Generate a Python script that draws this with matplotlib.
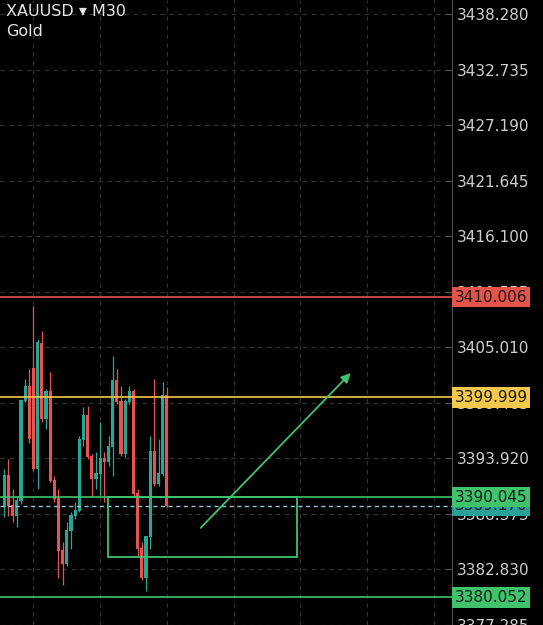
import matplotlib
matplotlib.use("Agg")
import matplotlib.pyplot as plt
from matplotlib.patches import Rectangle

# Candle data (XAUUSD, M30), oldest first
OPENS = [3389.10, 3392.18, 3389.20, 3388.21, 3389.70, 3399.65, 3401.14, 3402.84,
         3392.88, 3405.43, 3397.86, 3400.55, 3391.69, 3389.90, 3384.71, 3383.42,
         3386.71, 3388.21, 3388.70, 3395.76, 3398.16, 3394.07, 3391.89, 3392.38,
         3393.88, 3393.58, 3395.07, 3401.74, 3399.55, 3394.37, 3399.55, 3400.55,
         3390.39, 3384.91, 3381.93, 3386.11, 3394.57, 3391.39, 3392.38, 3400.15]
HIGHS = [3392.88, 3393.88, 3390.89, 3390.19, 3399.85, 3401.84, 3402.84, 3409.11,
         3405.83, 3406.62, 3400.85, 3402.54, 3392.18, 3390.89, 3385.61, 3387.61,
         3388.60, 3389.60, 3396.16, 3399.05, 3399.15, 3394.37, 3394.57, 3397.56,
         3394.57, 3396.16, 3404.13, 3402.84, 3401.14, 3399.85, 3401.14, 3400.85,
         3390.89, 3385.61, 3386.21, 3396.16, 3401.84, 3395.86, 3401.54, 3401.04]
LOWS = [3388.11, 3388.21, 3387.61, 3387.11, 3389.40, 3399.55, 3395.47, 3392.68,
        3390.89, 3397.56, 3396.86, 3391.59, 3389.60, 3381.93, 3381.23, 3383.22,
        3384.91, 3387.91, 3388.60, 3395.17, 3393.88, 3390.19, 3390.89, 3390.19,
        3389.60, 3393.18, 3392.18, 3399.35, 3394.17, 3394.07, 3399.35, 3390.19,
        3384.21, 3381.73, 3380.63, 3384.91, 3391.19, 3391.19, 3392.18, 3389.10]
CLOSES = [3392.18, 3389.20, 3388.21, 3389.70, 3399.65, 3401.14, 3395.86, 3392.88,
          3405.53, 3397.86, 3400.55, 3391.69, 3389.90, 3384.71, 3383.42, 3386.71,
          3388.21, 3388.70, 3395.76, 3398.16, 3394.07, 3391.89, 3392.38, 3393.88,
          3393.58, 3395.07, 3401.74, 3399.55, 3394.37, 3399.55, 3400.55, 3390.39,
          3384.91, 3381.93, 3386.11, 3394.57, 3391.39, 3392.38, 3400.15, 3389.17]

PRICE_TICKS = [3438.280, 3432.735, 3427.190, 3421.645, 3416.100, 3410.555,
               3405.010, 3399.465, 3393.920, 3388.375, 3382.830, 3377.285]
TIME_GRID = [7, 23, 39, 55, 71, 87, 103]

# drawn levels
RED_LEVEL = 3410.006
YELLOW_LEVEL = 3399.999
GREEN_LEVELS = [3390.045, 3380.052]
CURRENT_PRICE = 3389.170

# zone box and arrow (bar index, price)
BOX_X = [24.8, 70.1]
BOX_Y = [3384.12, 3390.045]
ARROW_FROM = (47.1, 3386.98)
ARROW_TO = (83.1, 3402.44)

BULL = "#27a595"
BEAR = "#e8524f"
RED = "#e5534b"
YELLOW = "#f4c84a"
GREEN = "#3fc46b"
CYAN = "#8fc3d6"
TEXT = "#cfcfcf"

fig = plt.figure(figsize=(5.43, 6.25), dpi=100, facecolor="black")
ax = fig.add_axes([0, 0, 452 / 543, 1])
ax.set_facecolor("black")

idx = list(range(len(OPENS)))
cols = [BULL if c >= o else BEAR for o, c in zip(OPENS, CLOSES)]
ax.vlines(idx, LOWS, HIGHS, colors=cols, lw=0.9, zorder=2)
ax.bar(idx, [abs(c - o) + 0.05 for o, c in zip(OPENS, CLOSES)],
       bottom=[min(o, c) for o, c in zip(OPENS, CLOSES)],
       width=0.75, color=cols, lw=0, zorder=3)

ax.set_xlim(-1.03, 107.4)
ax.set_ylim(3377.45, 3439.674)

ax.set_yticks(PRICE_TICKS)
ax.set_yticklabels([f"{t:.3f}" for t in PRICE_TICKS])
ax.yaxis.tick_right()
ax.tick_params(axis="y", direction="in", length=5, color="#555555",
               labelcolor=TEXT, labelsize=11, pad=3.6)
ax.set_xticks(TIME_GRID)
ax.tick_params(axis="x", length=0, labelbottom=False)
ax.grid(True, color="#333333", linestyle=(0, (4, 4)), lw=0.8, zorder=0)
ax.set_axisbelow(True)
for s in ["left", "top", "bottom"]:
    ax.spines[s].set_visible(False)
ax.spines["right"].set_color("#4d4d4d")

# horizontal levels
ax.axhline(RED_LEVEL, color=RED, lw=1.2, zorder=4)
ax.axhline(YELLOW_LEVEL, color=YELLOW, lw=1.2, zorder=4)
for g in GREEN_LEVELS:
    ax.axhline(g, color=GREEN, lw=1.2, zorder=4)
ax.axhline(CURRENT_PRICE, color=CYAN, lw=1.0, ls=(0, (3, 2.5)), zorder=4)

# zone box and arrow
ax.add_patch(Rectangle((BOX_X[0], BOX_Y[0]), BOX_X[1] - BOX_X[0],
                       BOX_Y[1] - BOX_Y[0], fill=False, edgecolor=GREEN,
                       lw=1.3, zorder=4))
ax.annotate("", xy=ARROW_TO, xytext=ARROW_FROM,
            arrowprops=dict(arrowstyle="-|>", color=GREEN, lw=1.3,
                            mutation_scale=14, shrinkA=0, shrinkB=0),
            zorder=5)


def price_label(price, face, z):
    ax.text(1.0055, price, f"{price:.3f}", transform=ax.get_yaxis_transform(),
            ha="left", va="center", fontsize=11, color="#1a1a1a",
            clip_on=False, zorder=z,
            bbox=dict(boxstyle="square,pad=0.18", fc=face, ec="none"))


price_label(CURRENT_PRICE, "#2aa198", 6)
price_label(RED_LEVEL, RED, 7)
price_label(YELLOW_LEVEL, YELLOW, 7)
for g in GREEN_LEVELS:
    price_label(g, GREEN, 7)

fig.text(6 / 543, 1 - 12 / 625, "XAUUSD \u25be M30", color="#e6e6e6",
         fontsize=11.5, ha="left", va="center")
fig.text(6 / 543, 1 - 31 / 625, "Gold", color="#e6e6e6",
         fontsize=11.5, ha="left", va="center")

fig.savefig("out.png", dpi=100, facecolor="black")
